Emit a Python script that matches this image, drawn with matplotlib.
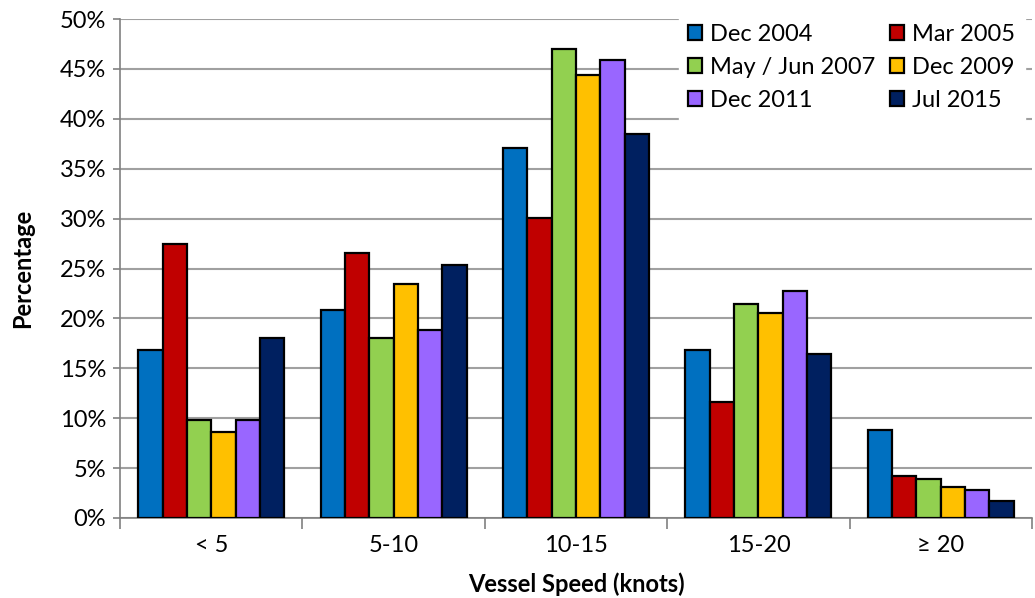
import matplotlib.pyplot as plt
import numpy as np

plt.rcParams['font.family'] = ['Lato', 'DejaVu Sans']

categories = ['< 5', '5-10', '10-15', '15-20', '≥ 20']
series = ['Dec 2004', 'Mar 2005', 'May / Jun 2007', 'Dec 2009', 'Dec 2011', 'Jul 2015']
colors = ['#0070C0', '#C00000', '#92D050', '#FFC000', '#9966FF', '#002060']

dec2004 = [16.8, 20.8, 37.1, 16.8, 8.8]
mar2005 = [27.5, 26.6, 30.1, 11.6, 4.2]
mayjun2007 = [9.8, 18.0, 47.0, 21.4, 3.9]
dec2009 = [8.6, 23.4, 44.4, 20.5, 3.1]
dec2011 = [9.8, 18.8, 45.9, 22.7, 2.8]
jul2015 = [18.0, 25.4, 38.5, 16.4, 1.7]
values = [dec2004, mar2005, mayjun2007, dec2009, dec2011, jul2015]

fig = plt.figure(figsize=(10.35, 5.98), dpi=100)
ax = fig.add_axes([120/1035, 80/598, 912/1035, 499/598])

x = np.arange(len(categories))
w = 0.8 / len(series)
bars = []
for i, (name, vals) in enumerate(zip(series, values)):
    b = ax.bar(x - 0.4 + w * (i + 0.5), vals, w, color=colors[i],
               edgecolor='black', linewidth=1.6, label=name, zorder=3)
    bars.append(b)

ax.set_xlim(-0.5, len(categories) - 0.5)
ax.set_ylim(0, 50)
ax.set_yticks(np.arange(0, 51, 5))
ax.set_yticklabels([f'{v}%' for v in range(0, 51, 5)], fontsize=17)
ax.yaxis.grid(True, color='#A0A0A0', linewidth=1.5, zorder=0)
ax.set_axisbelow(True)

ax.set_xticks(np.arange(-0.5, len(categories)), labels=[''] * (len(categories) + 1))
ax.set_xticks(x, labels=categories, minor=True)
ax.tick_params(axis='x', which='major', length=8, color='#808080', width=1.2)
ax.tick_params(axis='x', which='minor', length=0, labelsize=17, pad=12)
ax.tick_params(axis='y', length=5, color='#808080', width=1.2, pad=5)

for s in ['top', 'right']:
    ax.spines[s].set_visible(False)
for s in ['left', 'bottom']:
    ax.spines[s].set_color('#808080')
    ax.spines[s].set_linewidth(1.2)

ax.set_ylabel('Percentage', fontsize=17, fontweight='bold', labelpad=18)
ax.set_xlabel('Vessel Speed (knots)', fontsize=17, fontweight='bold', labelpad=12)

order = [0, 2, 4, 1, 3, 5]
leg = ax.legend([bars[i] for i in order], [series[i] for i in order], ncol=2,
                loc='upper right', bbox_to_anchor=(1.005, 1.032), fontsize=17,
                frameon=True, fancybox=False, edgecolor='white', framealpha=1,
                handlelength=0.6, handleheight=0.6, handletextpad=0.35,
                columnspacing=0.6, labelspacing=0.5, borderpad=0.4)
leg.set_zorder(5)

fig.savefig('out.png', dpi=100)
